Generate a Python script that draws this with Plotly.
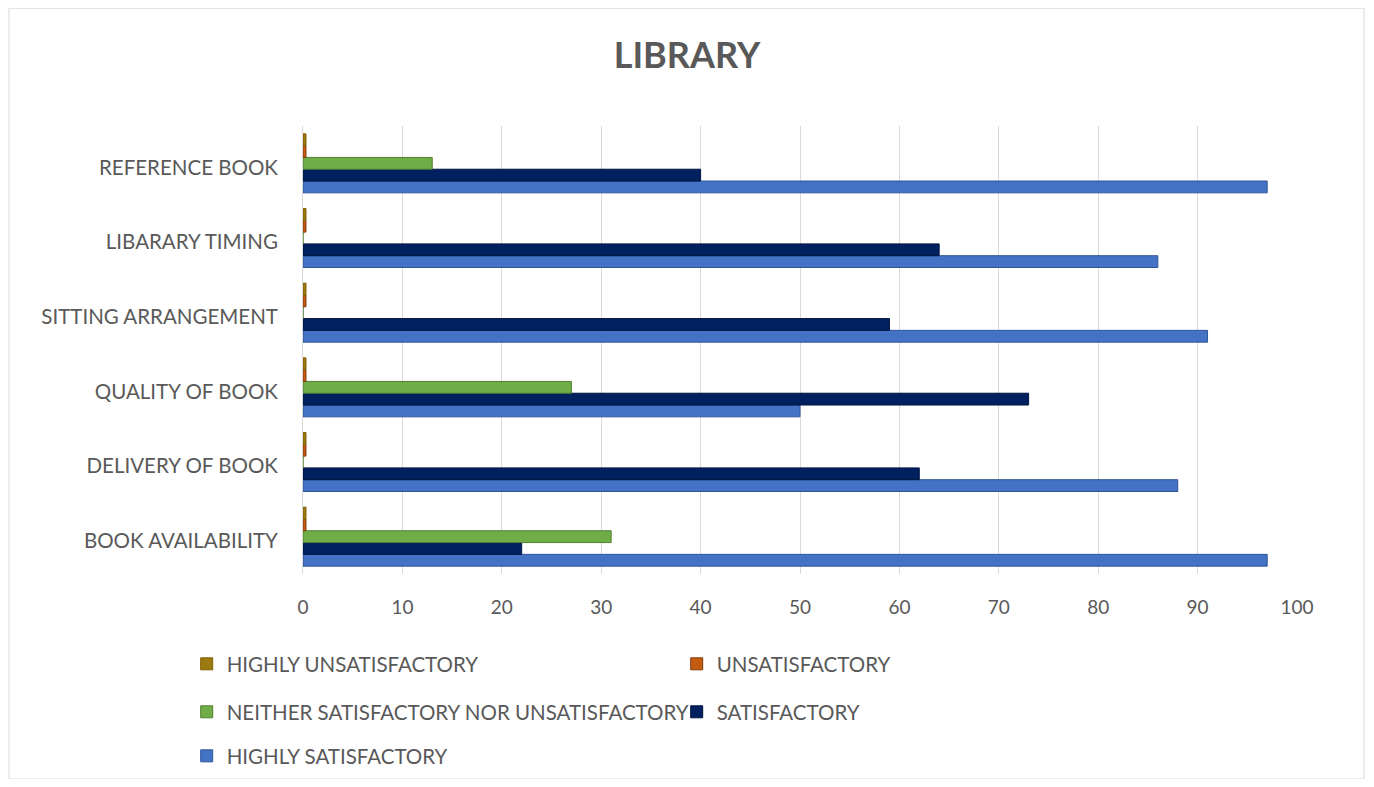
import plotly.graph_objects as go

categories = ["BOOK AVAILABILITY", "DELIVERY OF BOOK", "QUALITY OF BOOK",
              "SITTING ARRANGEMENT", "LIBARARY TIMING", "REFERENCE BOOK"]
highly_unsatisfactory = [0.3, 0.3, 0.3, 0.3, 0.3, 0.3]
unsatisfactory = [0.3, 0.3, 0.3, 0.3, 0.3, 0.3]
neither = [31, 0, 27, 0, 0, 13]
satisfactory = [22, 62, 73, 59, 64, 40]
highly_satisfactory = [97, 88, 50, 91, 86, 97]

FONT = "Lato"
TXT = "#595959"

fig = go.Figure()
series = [
    ("HIGHLY SATISFACTORY", highly_satisfactory, "#4472C4", "#2F5597", "legend3"),
    ("SATISFACTORY", satisfactory, "#002060", "#001540", "legend2"),
    ("NEITHER SATISFACTORY NOR UNSATISFACTORY", neither, "#70AD47", "#507E32", "legend2"),
    ("UNSATISFACTORY", unsatisfactory, "#C55A11", "#843C0C", "legend"),
    ("HIGHLY UNSATISFACTORY", highly_unsatisfactory, "#9C7A12", "#7F6000", "legend"),
]
for name, vals, col, edge, lg in series:
    fig.add_trace(go.Bar(
        y=categories, x=vals, name=name, orientation="h",
        marker=dict(color=col, line=dict(color=edge, width=1)),
        legend=lg,
    ))

legend_common = dict(orientation="h", xanchor="left", yanchor="middle",
                     font=dict(family=FONT, size=20.5, color=TXT),
                     entrywidth=445, entrywidthmode="pixels",
                     traceorder="reversed", bgcolor="rgba(0,0,0,0)")

fig.update_layout(
    width=1358, height=771,
    paper_bgcolor="white", plot_bgcolor="white",
    margin=dict(l=295, r=69, t=118, b=205, autoexpand=False),
    barmode="group", bargap=0.21, bargroupgap=0,
    title=dict(text="<b>LIBRARY</b>", x=0.5, xanchor="center", y=0.939, yanchor="middle",
               font=dict(family=FONT, size=36, color=TXT)),
    xaxis=dict(range=[0, 100], dtick=10, showgrid=True, gridcolor="#D9D9D9",
               zeroline=False, showline=False, ticks="",
               ticklabelstandoff=20,
               tickfont=dict(family=FONT, size=19, color=TXT)),
    yaxis=dict(showline=True, linecolor="#D9D9D9", showgrid=False, ticks="",
               ticklabelstandoff=20, ticklabelshift=4,
               tickfont=dict(family=FONT, size=20.5, color=TXT)),
    legend=dict(x=-0.117, y=-0.2009, **legend_common),
    legend2=dict(x=-0.117, y=-0.3080, **legend_common),
    legend3=dict(x=-0.117, y=-0.4063, **legend_common),
    showlegend=True,
)

fig.add_shape(type="rect", xref="paper", yref="paper",
              x0=-0.2958, x1=1.0674, y0=-0.4575, y1=1.263,
              line=dict(color="#D9D9D9", width=1), fillcolor="rgba(0,0,0,0)", layer="below")

fig.write_html("out.html")
